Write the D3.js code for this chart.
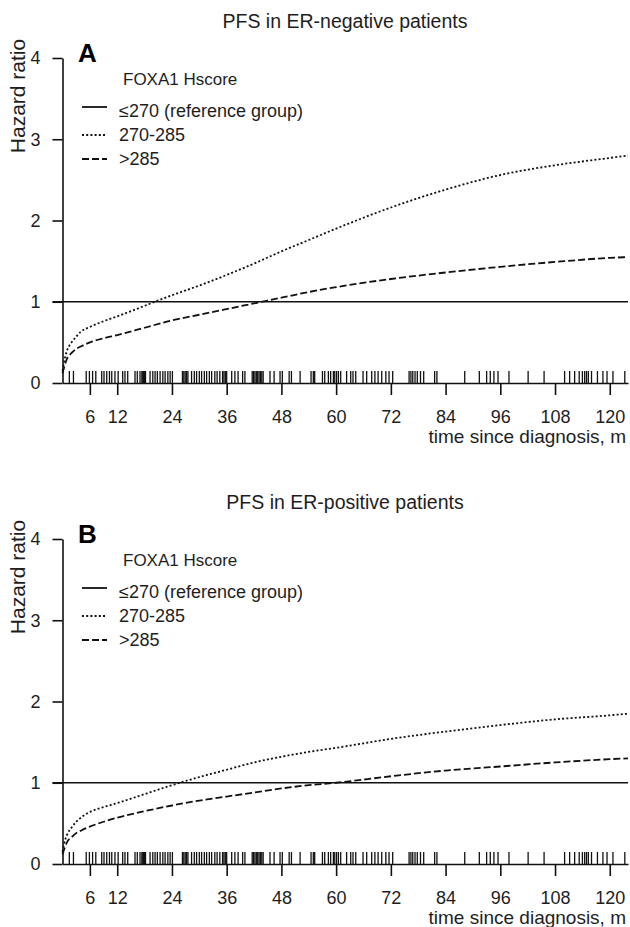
<!DOCTYPE html>
<html>
<head>
<meta charset="utf-8">
<script src="https://cdn.jsdelivr.net/npm/d3@7/dist/d3.min.js"></script>
<style>
  body { margin: 0; background: #fff; }
  text { font-family: "Liberation Sans", Arial, sans-serif; fill: #1e1e1e; }
</style>
</head>
<body>
<div id="chart"></div>
<script>
var times = [0, 0.5, 1, 2, 3, 4, 6, 9, 12, 18, 24, 30, 36, 42, 48, 54, 60, 72, 84, 96, 108, 120, 124];

// ER-negative
var negMid  = [0.15, 0.30, 0.40, 0.50, 0.57, 0.63, 0.69, 0.76, 0.82, 0.95, 1.08, 1.20, 1.33, 1.47, 1.62, 1.76, 1.90, 2.16, 2.38, 2.56, 2.68, 2.77, 2.80];
var negHigh = [0.12, 0.22, 0.30, 0.37, 0.42, 0.45, 0.50, 0.55, 0.59, 0.68, 0.77, 0.84, 0.91, 0.98, 1.05, 1.12, 1.18, 1.28, 1.36, 1.43, 1.49, 1.54, 1.55];
// ER-positive
var posMid  = [0.15, 0.28, 0.36, 0.45, 0.52, 0.57, 0.64, 0.70, 0.75, 0.86, 0.97, 1.07, 1.16, 1.25, 1.32, 1.38, 1.43, 1.54, 1.63, 1.71, 1.78, 1.83, 1.85];
var posHigh = [0.12, 0.20, 0.27, 0.33, 0.38, 0.41, 0.46, 0.52, 0.57, 0.65, 0.72, 0.78, 0.83, 0.88, 0.93, 0.97, 1.00, 1.08, 1.15, 1.20, 1.25, 1.29, 1.30];

// event times (rug), months
var events = [1.5, 2.4, 5.2, 5.9, 6.6, 7.3, 8.6, 9.1, 9.7, 10.3, 10.8, 11.5, 12.2, 13.2, 13.7, 14.3,
  15.9, 16.4, 17.0, 17.4, 17.6, 17.8, 18.0, 18.2, 19.2, 19.8, 20.3, 20.8, 21.4, 22.0, 22.5, 23.1, 23.6, 24.1,
  26.3, 26.6, 26.9, 27.2, 27.5, 28.3, 28.9, 29.4, 30.0, 30.5, 31.1, 31.6, 32.2, 32.7, 33.4, 33.9, 34.5,
  35.1, 35.4, 35.7, 36.0, 37.1, 37.8, 38.5, 39.5, 40.0,
  41.6, 41.9, 42.2, 42.5, 42.8, 43.1, 43.4, 43.7, 44.0, 45.5, 46.4, 47.7, 48.2, 49.7, 50.2, 52.1, 54.5, 55.0,
  55.3, 57.0, 57.5, 58.3, 58.8, 59.4, 59.7, 60.1, 60.5, 61.0, 62.3, 63.2, 63.7, 64.3, 65.9, 66.7, 67.8,
  68.5, 69.2, 70.0, 70.9, 71.6, 72.4, 76.0, 76.4, 76.8, 77.3, 77.8, 78.5, 79.2, 81.6, 82.1, 88.2, 91.4,
  93.0, 93.8, 94.6, 95.5, 97.9, 102.1, 105.6, 110.1, 111.2, 112.3, 113.3, 114.0, 114.5, 114.9, 115.3,
  116.0, 117.3, 118.5, 119.4, 120.7, 123.3];

var xTicks = [6, 12, 24, 36, 48, 60, 72, 84, 96, 108, 120];
var yTicks = [0, 1, 2, 3, 4];
var legendLabels = ["\u2264270 (reference group)", "270-285", ">285"];
var panels = [
  {letter: "A", title: "PFS in ER-negative patients", mid: negMid, high: negHigh, dy: 0},
  {letter: "B", title: "PFS in ER-positive patients", mid: posMid, high: posHigh, dy: 481}
];

var w = 630, h = 927;
var svg = d3.select("#chart").append("svg")
  .attr("width", w)
  .attr("height", h);

var x = d3.scaleLinear().domain([0, 124]).range([62.5, 628]);
var y = d3.scaleLinear().domain([0, 4]).range([383, 58]);

var line = d3.line()
  .x(function (d) { return x(d[0]); })
  .y(function (d) { return y(d[1]); })
  .curve(d3.curveMonotoneX);

var dashes = [null, "2,2.2", "7,3"];

panels.forEach(function (p) {
  var g = svg.append("g").attr("transform", "translate(0," + p.dy + ")");

  g.append("text")
    .attr("x", 345).attr("y", 28)
    .attr("text-anchor", "middle")
    .attr("font-size", "19.5px")
    .text(p.title);

  g.append("text")
    .attr("x", 78).attr("y", 62)
    .attr("font-size", "26px")
    .attr("font-weight", "bold")
    .style("fill", "#000")
    .text(p.letter);

  // axes
  var yAxis = g.append("g")
    .attr("transform", "translate(62.5,0)")
    .call(d3.axisLeft(y).tickValues(yTicks).tickFormat(d3.format("d"))
      .tickSize(10).tickSizeOuter(0).tickPadding(12));
  var xAxis = g.append("g")
    .attr("transform", "translate(0,383)")
    .call(d3.axisBottom(x).tickValues(xTicks).tickSize(12).tickSizeOuter(0).tickPadding(15));
  [xAxis, yAxis].forEach(function (a) {
    a.selectAll("path, line").attr("stroke", "#111").attr("stroke-width", 1.6);
    a.selectAll("text").attr("font-size", "18px").attr("font-family", null).style("fill", "#1e1e1e");
  });

  g.append("text")
    .attr("transform", "translate(25,96) rotate(-90)")
    .attr("text-anchor", "middle")
    .attr("font-size", "21px")
    .text("Hazard ratio");

  g.append("text")
    .attr("x", 626).attr("y", 443)
    .attr("text-anchor", "end")
    .attr("font-size", "19px")
    .text("time since diagnosis, m");

  // rug
  g.append("g").selectAll("line")
    .data(events)
    .enter()
    .append("line")
    .attr("x1", function (d) { return x(d); })
    .attr("x2", function (d) { return x(d); })
    .attr("y1", y(0))
    .attr("y2", y(0) - 12)
    .attr("stroke", "#111")
    .attr("stroke-width", 1.3);

  // reference line
  g.append("line")
    .attr("x1", 52.5).attr("x2", x(124))
    .attr("y1", y(1)).attr("y2", y(1))
    .attr("stroke", "#111")
    .attr("stroke-width", 1.6);

  [p.mid, p.high].forEach(function (vals, i) {
    g.append("path")
      .datum(times.map(function (t, j) { return [t, vals[j]]; }))
      .attr("d", line)
      .attr("fill", "none")
      .attr("stroke", "#111")
      .attr("stroke-width", 1.8)
      .attr("stroke-dasharray", dashes[i + 1]);
  });

  // legend
  g.append("text")
    .attr("x", 123).attr("y", 85)
    .attr("font-size", "17px")
    .text("FOXA1 Hscore");
  var lineY = [107, 135, 159];
  legendLabels.forEach(function (lab, i) {
    g.append("line")
      .attr("x1", 82).attr("x2", 107)
      .attr("y1", lineY[i]).attr("y2", lineY[i])
      .attr("stroke", "#111")
      .attr("stroke-width", 1.8)
      .attr("stroke-dasharray", dashes[i]);
    g.append("text")
      .attr("x", 119).attr("y", 117 + i * 24)
      .attr("font-size", "18px")
      .text(lab);
  });
});
</script>
</body>
</html>
